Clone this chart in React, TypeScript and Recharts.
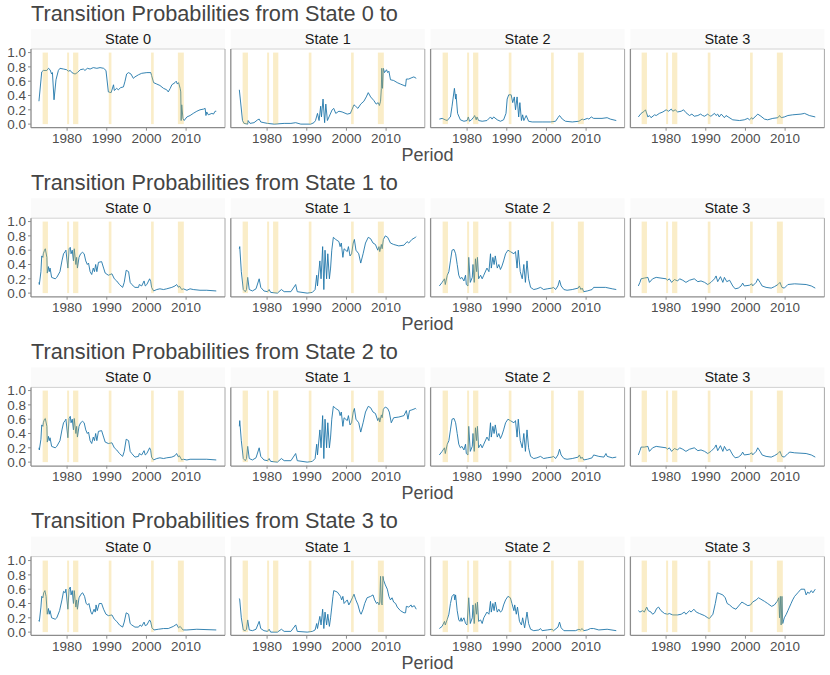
import React from 'react';
import { LineChart, Line, XAxis, YAxis, ReferenceArea } from 'recharts';

type Pt = [number, number];

const stateNames = ['State 0', 'State 1', 'State 2', 'State 3'];
const xTicks = [1980, 1990, 2000, 2010];
const yTicks = [0, 0.2, 0.4, 0.6, 0.8, 1.0];
const recessions: Pt[] = [
  [1973.83, 1975.17], [1980.0, 1980.5], [1981.5, 1982.83],
  [1990.5, 1991.17], [2001.17, 2001.83], [2007.92, 2009.42],
];

const from0to0: Pt[] = [[1972.9,0.32],[1973.6,0.73],[1974.0,0.75],[1974.9,0.75],[1975.3,0.78],[1975.7,0.76],[1976.1,0.70],[1976.3,0.72],[1976.7,0.34],[1977.2,0.62],[1977.8,0.75],[1978.2,0.78],[1979.1,0.77],[1979.9,0.76],[1980.3,0.74],[1980.8,0.75],[1981.2,0.72],[1982.0,0.70],[1982.6,0.72],[1983.3,0.76],[1984.1,0.77],[1984.5,0.75],[1985.1,0.78],[1985.8,0.77],[1986.6,0.79],[1987.5,0.78],[1988.3,0.79],[1989.2,0.78],[1989.8,0.75],[1990.4,0.45],[1991.1,0.44],[1991.7,0.55],[1991.9,0.47],[1992.5,0.50],[1992.9,0.48],[1993.5,0.51],[1994.2,0.52],[1994.6,0.60],[1995.0,0.70],[1995.5,0.72],[1996.1,0.70],[1996.7,0.64],[1997.1,0.66],[1998.0,0.69],[1998.8,0.71],[2000.1,0.72],[2001.1,0.72],[2001.3,0.68],[2001.8,0.58],[2002.6,0.56],[2003.4,0.54],[2004.3,0.50],[2005.1,0.48],[2005.5,0.45],[2006.0,0.50],[2006.4,0.55],[2007.2,0.58],[2007.5,0.60],[2007.8,0.56],[2008.1,0.58],[2008.5,0.50],[2008.65,0.45],[2008.75,0.05],[2008.9,0.27],[2009.2,0.08],[2009.5,0.05],[2010.2,0.10],[2011.0,0.12],[2011.8,0.15],[2012.7,0.18],[2013.5,0.20],[2014.4,0.21],[2014.8,0.22],[2015.0,0.12],[2015.2,0.17],[2015.6,0.13],[2016.5,0.15],[2016.9,0.14],[2017.3,0.18],[2017.6,0.18]];
const from0to1: Pt[] = [[1973.0,0.48],[1973.8,0.05],[1974.2,0.01],[1975.1,0.00],[1975.2,0.05],[1975.7,0.01],[1976.7,0.02],[1977.6,0.06],[1978.0,0.07],[1978.4,0.03],[1979.2,0.02],[1980.1,0.01],[1981.8,0.00],[1984.3,0.01],[1986.0,0.01],[1987.2,0.02],[1988.5,0.00],[1991.0,0.00],[1991.8,0.02],[1992.2,0.05],[1992.7,0.15],[1993.1,0.05],[1993.5,0.25],[1993.7,0.10],[1994.1,0.35],[1994.5,0.02],[1994.8,0.28],[1995.2,0.05],[1995.6,0.10],[1996.4,0.20],[1996.8,0.22],[1997.3,0.15],[1998.1,0.18],[1998.9,0.17],[2000.2,0.14],[2001.0,0.15],[2001.9,0.27],[2002.3,0.25],[2002.9,0.22],[2003.6,0.28],[2004.4,0.32],[2005.0,0.38],[2005.5,0.44],[2006.1,0.38],[2006.9,0.33],[2007.5,0.28],[2008.0,0.30],[2008.3,0.26],[2008.6,0.32],[2008.8,0.50],[2008.9,0.78],[2009.1,0.50],[2009.3,0.78],[2009.6,0.72],[2010.1,0.76],[2010.4,0.72],[2010.7,0.74],[2011.1,0.62],[2011.9,0.61],[2012.8,0.58],[2013.6,0.56],[2014.5,0.54],[2014.9,0.53],[2015.1,0.63],[2015.7,0.63],[2016.5,0.65],[2017.0,0.66],[2017.6,0.64]];
const from0to2: Pt[] = [[1973.0,0.07],[1973.7,0.08],[1974.5,0.06],[1975.0,0.05],[1975.4,0.08],[1975.8,0.10],[1976.2,0.25],[1976.8,0.50],[1977.1,0.35],[1977.2,0.42],[1977.6,0.15],[1978.3,0.06],[1979.2,0.04],[1980.0,0.05],[1980.3,0.10],[1980.6,0.04],[1981.1,0.06],[1981.7,0.10],[1981.9,0.12],[1982.3,0.06],[1982.5,0.10],[1982.9,0.05],[1983.8,0.04],[1985.0,0.05],[1985.9,0.10],[1986.3,0.07],[1986.7,0.10],[1987.6,0.06],[1988.4,0.04],[1989.2,0.06],[1989.8,0.15],[1990.1,0.35],[1990.5,0.41],[1991.1,0.41],[1991.5,0.30],[1991.9,0.38],[1992.2,0.20],[1992.6,0.38],[1993.0,0.10],[1993.3,0.30],[1993.7,0.05],[1994.0,0.13],[1994.3,0.05],[1994.9,0.12],[1995.5,0.04],[1996.4,0.03],[1998.9,0.03],[2001.0,0.03],[2002.3,0.04],[2002.9,0.09],[2003.3,0.12],[2004.0,0.07],[2004.8,0.04],[2006.5,0.03],[2008.2,0.04],[2009.0,0.07],[2009.4,0.06],[2010.3,0.08],[2010.7,0.07],[2011.3,0.10],[2011.9,0.08],[2014.0,0.08],[2015.3,0.09],[2016.1,0.07],[2017.6,0.05]];
const from0to3: Pt[] = [[1973.0,0.10],[1973.7,0.15],[1974.5,0.18],[1974.8,0.20],[1975.4,0.10],[1975.8,0.12],[1976.2,0.09],[1977.1,0.13],[1977.5,0.12],[1978.3,0.15],[1979.2,0.17],[1980.0,0.20],[1980.6,0.18],[1981.3,0.21],[1981.7,0.18],[1982.3,0.20],[1982.9,0.17],[1983.8,0.18],[1984.4,0.20],[1985.0,0.16],[1985.9,0.12],[1986.5,0.14],[1987.1,0.11],[1988.0,0.12],[1988.7,0.14],[1989.2,0.12],[1989.7,0.11],[1990.5,0.14],[1990.9,0.12],[1991.3,0.11],[1992.2,0.15],[1992.6,0.12],[1993.0,0.14],[1993.4,0.10],[1993.9,0.14],[1994.7,0.09],[1995.1,0.12],[1996.8,0.06],[1998.5,0.05],[1999.7,0.06],[2000.6,0.08],[2001.0,0.06],[2001.6,0.09],[2001.8,0.07],[2002.4,0.10],[2003.1,0.14],[2003.9,0.11],[2004.8,0.07],[2005.6,0.06],[2006.9,0.08],[2008.2,0.09],[2008.6,0.12],[2009.0,0.09],[2009.8,0.10],[2010.7,0.12],[2011.9,0.13],[2014.0,0.14],[2014.9,0.15],[2016.1,0.12],[2017.6,0.10]];

const from1to0: Pt[] = [[1972.9,0.15],[1973.0,0.12],[1973.4,0.30],[1973.6,0.52],[1973.9,0.50],[1974.0,0.55],[1974.3,0.60],[1974.5,0.62],[1974.9,0.50],[1975.0,0.28],[1975.3,0.37],[1975.5,0.30],[1975.7,0.35],[1976.1,0.22],[1977.0,0.20],[1977.4,0.22],[1978.2,0.30],[1978.7,0.45],[1979.1,0.55],[1979.5,0.58],[1979.7,0.60],[1980.2,0.35],[1980.5,0.62],[1980.8,0.64],[1981.0,0.55],[1981.3,0.60],[1981.6,0.45],[1981.8,0.62],[1982.2,0.40],[1982.4,0.50],[1982.6,0.35],[1983.0,0.50],[1983.4,0.55],[1983.9,0.57],[1984.3,0.55],[1984.7,0.45],[1985.1,0.40],[1985.4,0.42],[1985.8,0.30],[1986.2,0.26],[1986.6,0.35],[1986.9,0.30],[1987.2,0.40],[1987.5,0.30],[1987.9,0.43],[1988.7,0.44],[1989.2,0.35],[1989.6,0.28],[1990.4,0.25],[1991.3,0.27],[1991.9,0.20],[1992.5,0.17],[1993.2,0.12],[1994.0,0.08],[1994.4,0.15],[1994.9,0.32],[1995.5,0.30],[1995.9,0.15],[1996.3,0.12],[1997.1,0.08],[1998.0,0.08],[1998.2,0.12],[1998.8,0.10],[1999.4,0.17],[1999.7,0.10],[2000.1,0.12],[2000.8,0.20],[2001.1,0.16],[2001.3,0.08],[2001.8,0.03],[2002.6,0.05],[2003.4,0.06],[2004.3,0.05],[2005.1,0.06],[2006.4,0.08],[2007.2,0.10],[2007.6,0.12],[2008.1,0.08],[2008.3,0.10],[2008.9,0.05],[2009.3,0.06],[2010.2,0.04],[2011.0,0.06],[2011.8,0.05],[2013.5,0.04],[2015.2,0.04],[2017.6,0.03]];
const from1to1: Pt[] = [[1973.0,0.62],[1973.1,0.65],[1973.5,0.30],[1974.0,0.05],[1974.5,0.02],[1974.8,0.05],[1975.1,0.22],[1975.5,0.05],[1976.3,0.03],[1977.2,0.06],[1978.0,0.20],[1978.4,0.08],[1979.2,0.03],[1980.1,0.02],[1980.5,0.05],[1980.9,0.01],[1982.6,0.00],[1983.6,0.05],[1984.3,0.02],[1986.0,0.02],[1987.2,0.12],[1987.6,0.02],[1990.1,0.00],[1991.4,0.01],[1992.1,0.05],[1992.5,0.25],[1992.7,0.10],[1993.3,0.45],[1993.6,0.20],[1994.0,0.65],[1994.3,0.05],[1994.6,0.60],[1995.0,0.20],[1995.3,0.55],[1995.7,0.20],[1996.0,0.35],[1996.3,0.60],[1996.7,0.78],[1997.3,0.75],[1998.1,0.72],[1998.4,0.65],[1998.7,0.70],[1999.1,0.50],[1999.4,0.62],[2000.2,0.58],[2000.5,0.65],[2000.9,0.52],[2001.3,0.55],[2001.7,0.70],[2002.0,0.75],[2002.4,0.60],[2003.1,0.55],[2003.6,0.42],[2004.2,0.55],[2004.8,0.70],[2005.5,0.78],[2006.1,0.76],[2006.7,0.70],[2007.3,0.68],[2007.9,0.60],[2008.2,0.65],[2008.4,0.58],[2008.8,0.68],[2009.0,0.62],[2009.3,0.75],[2009.8,0.80],[2010.4,0.78],[2011.1,0.70],[2011.9,0.68],[2013.2,0.66],[2014.5,0.67],[2015.3,0.72],[2015.7,0.70],[2016.5,0.75],[2017.4,0.78],[2017.6,0.79]];
const from1to2: Pt[] = [[1973.0,0.10],[1973.7,0.15],[1974.3,0.20],[1974.5,0.12],[1975.0,0.25],[1975.4,0.30],[1975.8,0.45],[1976.2,0.60],[1976.7,0.61],[1977.1,0.55],[1977.5,0.40],[1977.9,0.25],[1978.3,0.20],[1978.7,0.22],[1979.2,0.17],[1979.6,0.25],[1979.8,0.12],[1980.2,0.10],[1980.4,0.50],[1980.8,0.15],[1981.3,0.22],[1981.5,0.40],[1981.8,0.15],[1982.1,0.48],[1982.4,0.30],[1982.6,0.50],[1982.9,0.20],[1983.4,0.25],[1983.8,0.20],[1984.2,0.25],[1985.0,0.35],[1985.5,0.30],[1985.9,0.55],[1986.1,0.35],[1986.5,0.50],[1986.8,0.40],[1987.1,0.52],[1987.6,0.35],[1988.0,0.40],[1988.4,0.33],[1988.8,0.38],[1989.2,0.45],[1989.7,0.55],[1990.3,0.60],[1990.9,0.58],[1991.8,0.55],[1992.2,0.58],[1992.6,0.35],[1992.9,0.60],[1993.4,0.30],[1993.9,0.20],[1994.3,0.40],[1994.7,0.15],[1995.1,0.45],[1995.5,0.20],[1996.0,0.08],[1996.8,0.05],[1997.6,0.06],[1998.5,0.08],[1999.3,0.05],[2000.2,0.06],[2001.4,0.07],[2001.8,0.08],[2002.3,0.05],[2002.9,0.10],[2003.3,0.18],[2003.7,0.10],[2004.4,0.05],[2005.2,0.04],[2006.5,0.05],[2008.0,0.07],[2008.3,0.10],[2008.7,0.05],[2009.0,0.07],[2009.4,0.02],[2010.3,0.03],[2011.5,0.05],[2011.9,0.08],[2014.9,0.08],[2016.6,0.06],[2017.6,0.05]];
const from1to3: Pt[] = [[1973.0,0.10],[1973.4,0.15],[1973.7,0.20],[1974.5,0.21],[1975.4,0.22],[1975.8,0.15],[1976.6,0.20],[1977.5,0.22],[1978.7,0.21],[1980.0,0.20],[1980.4,0.18],[1980.8,0.20],[1981.4,0.15],[1982.1,0.19],[1982.9,0.17],[1983.4,0.20],[1984.2,0.18],[1985.0,0.15],[1985.9,0.18],[1987.1,0.20],[1988.0,0.16],[1988.8,0.17],[1989.7,0.15],[1990.5,0.12],[1991.3,0.15],[1992.2,0.20],[1992.6,0.24],[1993.0,0.16],[1993.7,0.23],[1994.3,0.15],[1994.7,0.22],[1995.3,0.16],[1996.0,0.18],[1996.8,0.10],[1997.4,0.06],[1998.2,0.07],[1998.9,0.10],[1999.3,0.14],[1999.7,0.10],[2001.0,0.11],[2001.6,0.13],[2001.8,0.10],[2002.7,0.15],[2003.1,0.20],[2003.7,0.15],[2004.2,0.10],[2005.2,0.08],[2006.5,0.07],[2007.3,0.09],[2008.2,0.12],[2008.7,0.15],[2009.2,0.08],[2009.8,0.07],[2010.7,0.12],[2012.4,0.13],[2015.3,0.12],[2016.6,0.10],[2017.6,0.07]];

const from2to0: Pt[] = [[1972.9,0.20],[1973.0,0.17],[1973.4,0.32],[1973.6,0.52],[1973.9,0.50],[1974.0,0.55],[1974.3,0.60],[1974.5,0.61],[1974.9,0.50],[1975.0,0.28],[1975.3,0.36],[1975.5,0.30],[1975.7,0.34],[1976.1,0.22],[1977.0,0.20],[1977.4,0.22],[1978.2,0.30],[1978.7,0.45],[1979.1,0.55],[1979.5,0.58],[1979.7,0.60],[1980.2,0.34],[1980.5,0.61],[1980.8,0.64],[1981.0,0.55],[1981.3,0.60],[1981.6,0.45],[1981.8,0.61],[1982.2,0.40],[1982.4,0.50],[1982.6,0.35],[1983.0,0.50],[1983.4,0.55],[1983.9,0.57],[1984.3,0.55],[1984.7,0.45],[1985.1,0.40],[1985.4,0.42],[1985.8,0.30],[1986.2,0.26],[1986.6,0.35],[1986.9,0.30],[1987.2,0.40],[1987.5,0.30],[1987.9,0.43],[1988.7,0.44],[1989.2,0.35],[1989.6,0.28],[1990.4,0.26],[1991.3,0.27],[1991.9,0.20],[1992.5,0.17],[1993.2,0.12],[1994.0,0.08],[1994.4,0.15],[1994.9,0.32],[1995.5,0.30],[1995.9,0.15],[1996.3,0.12],[1997.1,0.07],[1998.0,0.08],[1998.2,0.12],[1998.8,0.10],[1999.4,0.16],[1999.7,0.10],[2000.1,0.12],[2000.8,0.20],[2001.1,0.16],[2001.3,0.07],[2001.8,0.03],[2002.6,0.05],[2003.4,0.06],[2004.3,0.05],[2005.1,0.06],[2006.4,0.07],[2007.2,0.09],[2007.6,0.12],[2008.1,0.07],[2008.3,0.09],[2008.9,0.03],[2009.3,0.04],[2010.2,0.03],[2011.0,0.04],[2013.5,0.04],[2015.2,0.04],[2017.6,0.03]];
const from2to1: Pt[] = [[1973.0,0.50],[1973.1,0.58],[1973.5,0.30],[1974.0,0.05],[1974.5,0.02],[1974.8,0.05],[1975.1,0.22],[1975.5,0.05],[1976.3,0.03],[1977.2,0.06],[1978.0,0.20],[1978.4,0.08],[1979.2,0.03],[1980.1,0.02],[1980.5,0.05],[1980.9,0.01],[1982.6,0.00],[1983.6,0.05],[1984.3,0.02],[1986.0,0.02],[1987.2,0.12],[1987.6,0.02],[1990.1,0.00],[1991.4,0.01],[1992.1,0.05],[1992.5,0.25],[1992.7,0.10],[1993.3,0.45],[1993.6,0.20],[1994.0,0.65],[1994.3,0.05],[1994.6,0.60],[1995.0,0.20],[1995.3,0.55],[1995.7,0.20],[1996.0,0.35],[1996.3,0.60],[1996.7,0.78],[1997.3,0.75],[1998.1,0.72],[1998.4,0.65],[1998.7,0.70],[1999.1,0.50],[1999.4,0.62],[2000.2,0.58],[2000.5,0.65],[2000.9,0.52],[2001.3,0.55],[2001.7,0.70],[2002.0,0.75],[2002.4,0.60],[2003.1,0.55],[2003.6,0.42],[2004.2,0.55],[2004.8,0.70],[2005.5,0.78],[2006.1,0.76],[2006.7,0.70],[2007.3,0.68],[2007.9,0.58],[2008.2,0.62],[2008.4,0.56],[2008.8,0.66],[2009.0,0.62],[2009.3,0.74],[2009.8,0.77],[2010.4,0.75],[2010.8,0.70],[2011.3,0.55],[2011.9,0.62],[2013.2,0.63],[2014.5,0.65],[2015.1,0.72],[2015.5,0.60],[2015.9,0.72],[2016.5,0.73],[2017.4,0.75],[2017.6,0.74]];
const from2to2: Pt[] = [[1973.0,0.10],[1973.7,0.15],[1974.3,0.20],[1974.5,0.12],[1975.0,0.25],[1975.4,0.30],[1975.8,0.45],[1976.2,0.60],[1976.7,0.61],[1977.1,0.55],[1977.5,0.40],[1977.9,0.25],[1978.3,0.20],[1978.7,0.22],[1979.2,0.17],[1979.6,0.25],[1979.8,0.12],[1980.2,0.10],[1980.4,0.50],[1980.8,0.15],[1981.3,0.22],[1981.5,0.40],[1981.8,0.15],[1982.1,0.48],[1982.4,0.30],[1982.6,0.50],[1982.9,0.20],[1983.4,0.25],[1983.8,0.20],[1984.2,0.25],[1985.0,0.35],[1985.5,0.30],[1985.9,0.55],[1986.1,0.35],[1986.5,0.50],[1986.8,0.40],[1987.1,0.52],[1987.6,0.35],[1988.0,0.40],[1988.4,0.33],[1988.8,0.38],[1989.2,0.45],[1989.7,0.55],[1990.3,0.60],[1990.9,0.58],[1991.8,0.55],[1992.2,0.58],[1992.6,0.35],[1992.9,0.60],[1993.4,0.30],[1993.9,0.20],[1994.3,0.40],[1994.7,0.15],[1995.1,0.45],[1995.5,0.20],[1996.0,0.08],[1996.8,0.05],[1997.6,0.06],[1998.5,0.08],[1999.3,0.05],[2000.2,0.06],[2001.4,0.07],[2001.8,0.08],[2002.3,0.05],[2002.9,0.10],[2003.3,0.18],[2003.7,0.10],[2004.4,0.05],[2005.2,0.04],[2006.5,0.05],[2008.0,0.07],[2008.3,0.10],[2008.7,0.05],[2009.0,0.07],[2009.4,0.03],[2010.3,0.04],[2011.5,0.06],[2011.9,0.10],[2013.2,0.08],[2014.5,0.07],[2015.0,0.12],[2015.3,0.08],[2016.6,0.06],[2017.6,0.07]];
const from2to3: Pt[] = [[1973.0,0.10],[1973.4,0.16],[1973.7,0.21],[1974.5,0.21],[1975.4,0.22],[1975.8,0.15],[1976.6,0.20],[1977.5,0.22],[1978.7,0.21],[1980.0,0.20],[1980.4,0.18],[1980.8,0.20],[1981.4,0.15],[1982.1,0.19],[1982.9,0.17],[1983.4,0.20],[1984.2,0.18],[1985.0,0.15],[1985.9,0.18],[1987.1,0.20],[1988.0,0.16],[1988.8,0.17],[1989.7,0.15],[1990.5,0.12],[1991.3,0.15],[1992.2,0.20],[1992.6,0.24],[1993.0,0.16],[1993.7,0.23],[1994.3,0.15],[1994.7,0.22],[1995.3,0.16],[1996.0,0.18],[1996.8,0.10],[1997.4,0.06],[1998.2,0.07],[1998.9,0.10],[1999.3,0.14],[1999.7,0.10],[2001.0,0.11],[2001.6,0.13],[2001.8,0.10],[2002.7,0.15],[2003.1,0.20],[2003.7,0.15],[2004.2,0.10],[2005.2,0.08],[2006.5,0.07],[2007.3,0.09],[2008.2,0.12],[2008.7,0.15],[2009.2,0.08],[2009.8,0.07],[2010.7,0.12],[2011.2,0.14],[2012.4,0.13],[2015.3,0.12],[2016.6,0.10],[2017.6,0.07]];

const from3to0: Pt[] = [[1972.8,0.16],[1973.0,0.15],[1973.4,0.35],[1973.6,0.50],[1973.9,0.48],[1974.1,0.55],[1974.4,0.58],[1974.7,0.50],[1975.0,0.25],[1975.3,0.33],[1975.5,0.25],[1975.7,0.30],[1976.1,0.20],[1977.0,0.18],[1977.4,0.20],[1978.1,0.30],[1978.7,0.45],[1979.1,0.57],[1979.5,0.55],[1979.7,0.60],[1980.2,0.32],[1980.5,0.60],[1980.8,0.63],[1981.0,0.52],[1981.3,0.58],[1981.6,0.40],[1981.8,0.58],[1982.2,0.35],[1982.4,0.45],[1982.6,0.32],[1983.0,0.48],[1983.5,0.53],[1983.9,0.55],[1984.4,0.50],[1984.8,0.40],[1985.2,0.38],[1985.5,0.40],[1986.0,0.28],[1986.3,0.25],[1986.8,0.32],[1987.1,0.28],[1987.3,0.38],[1987.6,0.30],[1988.1,0.40],[1988.7,0.40],[1989.2,0.32],[1989.8,0.25],[1990.4,0.23],[1991.3,0.24],[1991.9,0.18],[1992.5,0.15],[1993.2,0.10],[1994.0,0.07],[1994.4,0.14],[1994.9,0.27],[1995.5,0.25],[1995.9,0.12],[1996.3,0.10],[1997.1,0.07],[1998.0,0.07],[1998.4,0.10],[1998.8,0.08],[1999.4,0.14],[1999.7,0.09],[2000.1,0.10],[2000.8,0.17],[2001.1,0.14],[2001.4,0.06],[2001.9,0.03],[2003.0,0.04],[2004.3,0.05],[2005.5,0.05],[2006.8,0.08],[2007.6,0.11],[2008.1,0.06],[2008.5,0.08],[2009.2,0.03],[2010.2,0.03],[2012.7,0.04],[2017.6,0.03]];
const from3to1: Pt[] = [[1973.0,0.47],[1973.1,0.45],[1973.5,0.20],[1974.0,0.03],[1974.5,0.02],[1974.8,0.04],[1975.1,0.17],[1975.5,0.03],[1976.3,0.02],[1977.2,0.04],[1978.0,0.15],[1978.4,0.05],[1979.2,0.02],[1980.1,0.01],[1980.5,0.04],[1980.9,0.00],[1982.6,0.00],[1983.6,0.04],[1984.3,0.01],[1986.0,0.01],[1987.2,0.10],[1987.6,0.01],[1990.1,0.00],[1991.4,0.01],[1992.1,0.03],[1992.5,0.12],[1992.7,0.05],[1993.3,0.22],[1993.6,0.10],[1994.0,0.32],[1994.3,0.05],[1994.6,0.28],[1995.0,0.10],[1995.3,0.25],[1995.7,0.08],[1996.0,0.20],[1996.3,0.35],[1996.6,0.50],[1996.8,0.58],[1997.7,0.56],[1998.5,0.50],[1998.8,0.45],[1999.1,0.50],[1999.4,0.40],[2000.2,0.45],[2000.6,0.38],[2001.0,0.42],[2001.5,0.48],[2001.9,0.53],[2002.3,0.46],[2002.9,0.38],[2003.4,0.28],[2003.7,0.25],[2004.2,0.32],[2004.6,0.40],[2005.2,0.48],[2006.1,0.50],[2006.7,0.52],[2007.1,0.45],[2007.6,0.40],[2007.9,0.42],[2008.2,0.38],[2008.4,0.42],[2008.6,0.78],[2008.8,0.40],[2009.0,0.38],[2009.2,0.78],[2009.4,0.72],[2009.8,0.66],[2010.3,0.60],[2010.7,0.50],[2011.1,0.45],[2011.5,0.48],[2011.9,0.42],[2012.4,0.40],[2012.8,0.35],[2013.6,0.30],[2014.5,0.27],[2014.9,0.27],[2015.1,0.36],[2015.7,0.35],[2016.3,0.38],[2016.5,0.35],[2017.1,0.37],[2017.6,0.32]];
const from3to2: Pt[] = [[1973.0,0.05],[1973.7,0.08],[1974.3,0.15],[1974.5,0.10],[1975.0,0.18],[1975.4,0.25],[1975.8,0.40],[1976.2,0.50],[1976.7,0.53],[1976.9,0.45],[1977.1,0.52],[1977.5,0.30],[1977.9,0.17],[1978.2,0.15],[1978.5,0.20],[1978.7,0.15],[1979.2,0.20],[1979.6,0.12],[1980.0,0.10],[1980.4,0.48],[1980.8,0.12],[1981.3,0.20],[1981.5,0.38],[1981.8,0.12],[1982.1,0.40],[1982.4,0.25],[1982.6,0.42],[1982.9,0.15],[1983.4,0.17],[1983.8,0.12],[1984.2,0.20],[1985.0,0.28],[1985.5,0.25],[1985.9,0.43],[1986.1,0.28],[1986.5,0.40],[1986.8,0.30],[1987.1,0.42],[1987.6,0.28],[1988.0,0.32],[1988.4,0.28],[1988.8,0.30],[1989.2,0.38],[1989.7,0.45],[1990.3,0.50],[1990.9,0.48],[1991.3,0.40],[1991.8,0.30],[1992.0,0.38],[1992.4,0.25],[1992.7,0.35],[1993.2,0.15],[1993.7,0.10],[1994.0,0.20],[1994.5,0.06],[1995.1,0.28],[1995.5,0.12],[1996.0,0.04],[1996.8,0.02],[1998.1,0.03],[1998.5,0.05],[1998.9,0.02],[2000.2,0.03],[2001.4,0.04],[2001.8,0.02],[2002.9,0.07],[2003.3,0.14],[2003.7,0.06],[2004.4,0.02],[2007.3,0.02],[2008.2,0.04],[2008.6,0.03],[2009.0,0.05],[2009.4,0.02],[2010.3,0.03],[2011.1,0.05],[2011.9,0.05],[2013.2,0.03],[2015.3,0.04],[2017.6,0.02]];
const from3to3: Pt[] = [[1973.0,0.30],[1973.4,0.28],[1974.1,0.30],[1974.5,0.28],[1975.1,0.35],[1975.5,0.30],[1976.2,0.28],[1976.6,0.25],[1977.1,0.27],[1977.6,0.33],[1978.1,0.35],[1978.7,0.30],[1979.6,0.26],[1980.4,0.25],[1980.8,0.26],[1981.7,0.24],[1982.9,0.24],[1983.8,0.25],[1984.6,0.28],[1985.0,0.25],[1985.9,0.30],[1986.3,0.28],[1987.0,0.32],[1987.6,0.28],[1988.4,0.26],[1989.7,0.23],[1990.5,0.20],[1990.9,0.19],[1991.8,0.25],[1992.4,0.40],[1992.9,0.55],[1993.4,0.54],[1994.3,0.52],[1994.9,0.48],[1995.4,0.40],[1996.0,0.38],[1996.8,0.34],[1997.6,0.32],[1998.5,0.38],[1999.1,0.42],[1999.7,0.40],[2000.6,0.37],[2001.3,0.38],[2001.8,0.42],[2002.7,0.45],[2003.3,0.48],[2003.9,0.46],[2004.8,0.43],[2005.6,0.40],[2006.6,0.36],[2007.3,0.38],[2008.0,0.43],[2008.4,0.48],[2008.6,0.20],[2008.8,0.50],[2009.0,0.10],[2009.2,0.50],[2009.4,0.12],[2009.8,0.20],[2010.3,0.25],[2010.7,0.30],[2011.1,0.35],[2011.5,0.40],[2011.9,0.45],[2012.4,0.50],[2013.2,0.55],[2014.0,0.60],[2014.9,0.60],[2015.3,0.52],[2015.7,0.56],[2016.1,0.54],[2016.6,0.58],[2017.0,0.55],[2017.6,0.60]];

const rowsData: Pt[][][] = [
  [from0to0, from0to1, from0to2, from0to3],
  [from1to0, from1to1, from1to2, from1to3],
  [from2to0, from2to1, from2to2, from2to3],
  [from3to0, from3to1, from3to2, from3to3],
];

const PANEL_W = 194;
const PANEL_H = 78.7;
const COL_STEP = 199.8;
const ROW_STEP = 169.2;
const LEFT0 = 31;
const PANEL_TOP0 = 49;
const YAXIS_W = 31;
const XAXIS_H = 24;
const TOP_PAD = 8;
const FONT = '"Liberation Sans", Arial, Helvetica, sans-serif';
const TICK_STYLE = { fontSize: 13.5, fill: '#4d4d4d', fontFamily: FONT };

function Panel({ pts, row, col }: { pts: Pt[]; row: number; col: number }) {
  const showY = col === 0;
  const w = PANEL_W + (showY ? YAXIS_W : 0);
  const h = PANEL_H + XAXIS_H + TOP_PAD;
  const left = LEFT0 + col * COL_STEP - (showY ? YAXIS_W : 0);
  const top = PANEL_TOP0 + row * ROW_STEP - TOP_PAD;
  const data = pts.map(([t, v]) => ({ t, v }));
  return (
    <div style={{ position: 'absolute', left, top, width: w, height: h }}>
      <LineChart width={w} height={h} data={data} margin={{ top: TOP_PAD, right: 0, bottom: 0, left: 0 }}>
        <XAxis
          dataKey="t"
          type="number"
          domain={[1970.9, 2019.8]}
          ticks={xTicks}
          allowDataOverflow
          interval={0}
          axisLine={false}
          tickLine={{ stroke: '#8c8c8c' }}
          tickSize={3}
          tickMargin={2.5}
          height={XAXIS_H}
          tick={TICK_STYLE}
        />
        <YAxis
          type="number"
          domain={[-0.05, 1.05]}
          ticks={yTicks}
          allowDataOverflow
          interval={0}
          hide={!showY}
          width={showY ? YAXIS_W : 0}
          axisLine={false}
          tickLine={{ stroke: '#8c8c8c' }}
          tickSize={3}
          tickMargin={2}
          tickFormatter={(v: number) => v.toFixed(1)}
          tick={TICK_STYLE}
        />
        <Line
          type="linear"
          dataKey="v"
          stroke="#1f76a9"
          strokeWidth={0.9}
          dot={false}
          activeDot={false}
          isAnimationActive={false}
        />
        {recessions.map(([a, b], i) => (
          <ReferenceArea
            key={i}
            x1={a}
            x2={b}
            y1={0}
            y2={1}
            fill="#efc24a"
            fillOpacity={0.3}
            stroke="none"
            ifOverflow="visible"
            zIndex={450}
          />
        ))}
      </LineChart>
    </div>
  );
}

export default function App() {
  const rows = [0, 1, 2, 3];
  const cols = [0, 1, 2, 3];
  return (
    <div style={{ position: 'absolute', left: 0, top: 0, width: 830, height: 675, background: '#fff', fontFamily: FONT, overflow: 'hidden' }}>
      {rows.map((r) =>
        cols.map((c) => <Panel key={`${r}-${c}`} pts={rowsData[r][c]} row={r} col={c} />)
      )}
      <svg width={830} height={675} style={{ position: 'absolute', left: 0, top: 0, pointerEvents: 'none' }}>
        {rows.map((r) => {
          const off = r * ROW_STEP;
          return (
            <g key={r}>
              <text x={31} y={20.7 + off} fontSize={21.7} fill="#444" fontFamily={FONT}>
                {`Transition Probabilities from State ${r} to`}
              </text>
              {cols.map((c) => {
                const x = LEFT0 + c * COL_STEP;
                const pt = PANEL_TOP0 + off;
                return (
                  <g key={c}>
                    <rect x={x} y={29 + off} width={PANEL_W} height={19.5} fill="#fafafa" />
                    <text x={x + PANEL_W / 2} y={44 + off} fontSize={14.5} textAnchor="middle" fill="#1a1a1a" fontFamily={FONT}>
                      {stateNames[c]}
                    </text>
                    <line x1={x} y1={pt} x2={x + PANEL_W} y2={pt} stroke="#d2d2d2" strokeWidth={1} />
                    <line x1={x + PANEL_W} y1={pt} x2={x + PANEL_W} y2={pt + PANEL_H} stroke="#a8a8a8" strokeWidth={1} />
                    <line x1={x} y1={pt} x2={x} y2={pt + PANEL_H} stroke="#8c8c8c" strokeWidth={1.3} />
                    <line x1={x} y1={pt + PANEL_H} x2={x + PANEL_W} y2={pt + PANEL_H} stroke="#8c8c8c" strokeWidth={1.3} />
                  </g>
                );
              })}
              <text x={427.5} y={161 + off} fontSize={18} textAnchor="middle" fill="#4d4d4d" fontFamily={FONT}>
                Period
              </text>
            </g>
          );
        })}
      </svg>
    </div>
  );
}
